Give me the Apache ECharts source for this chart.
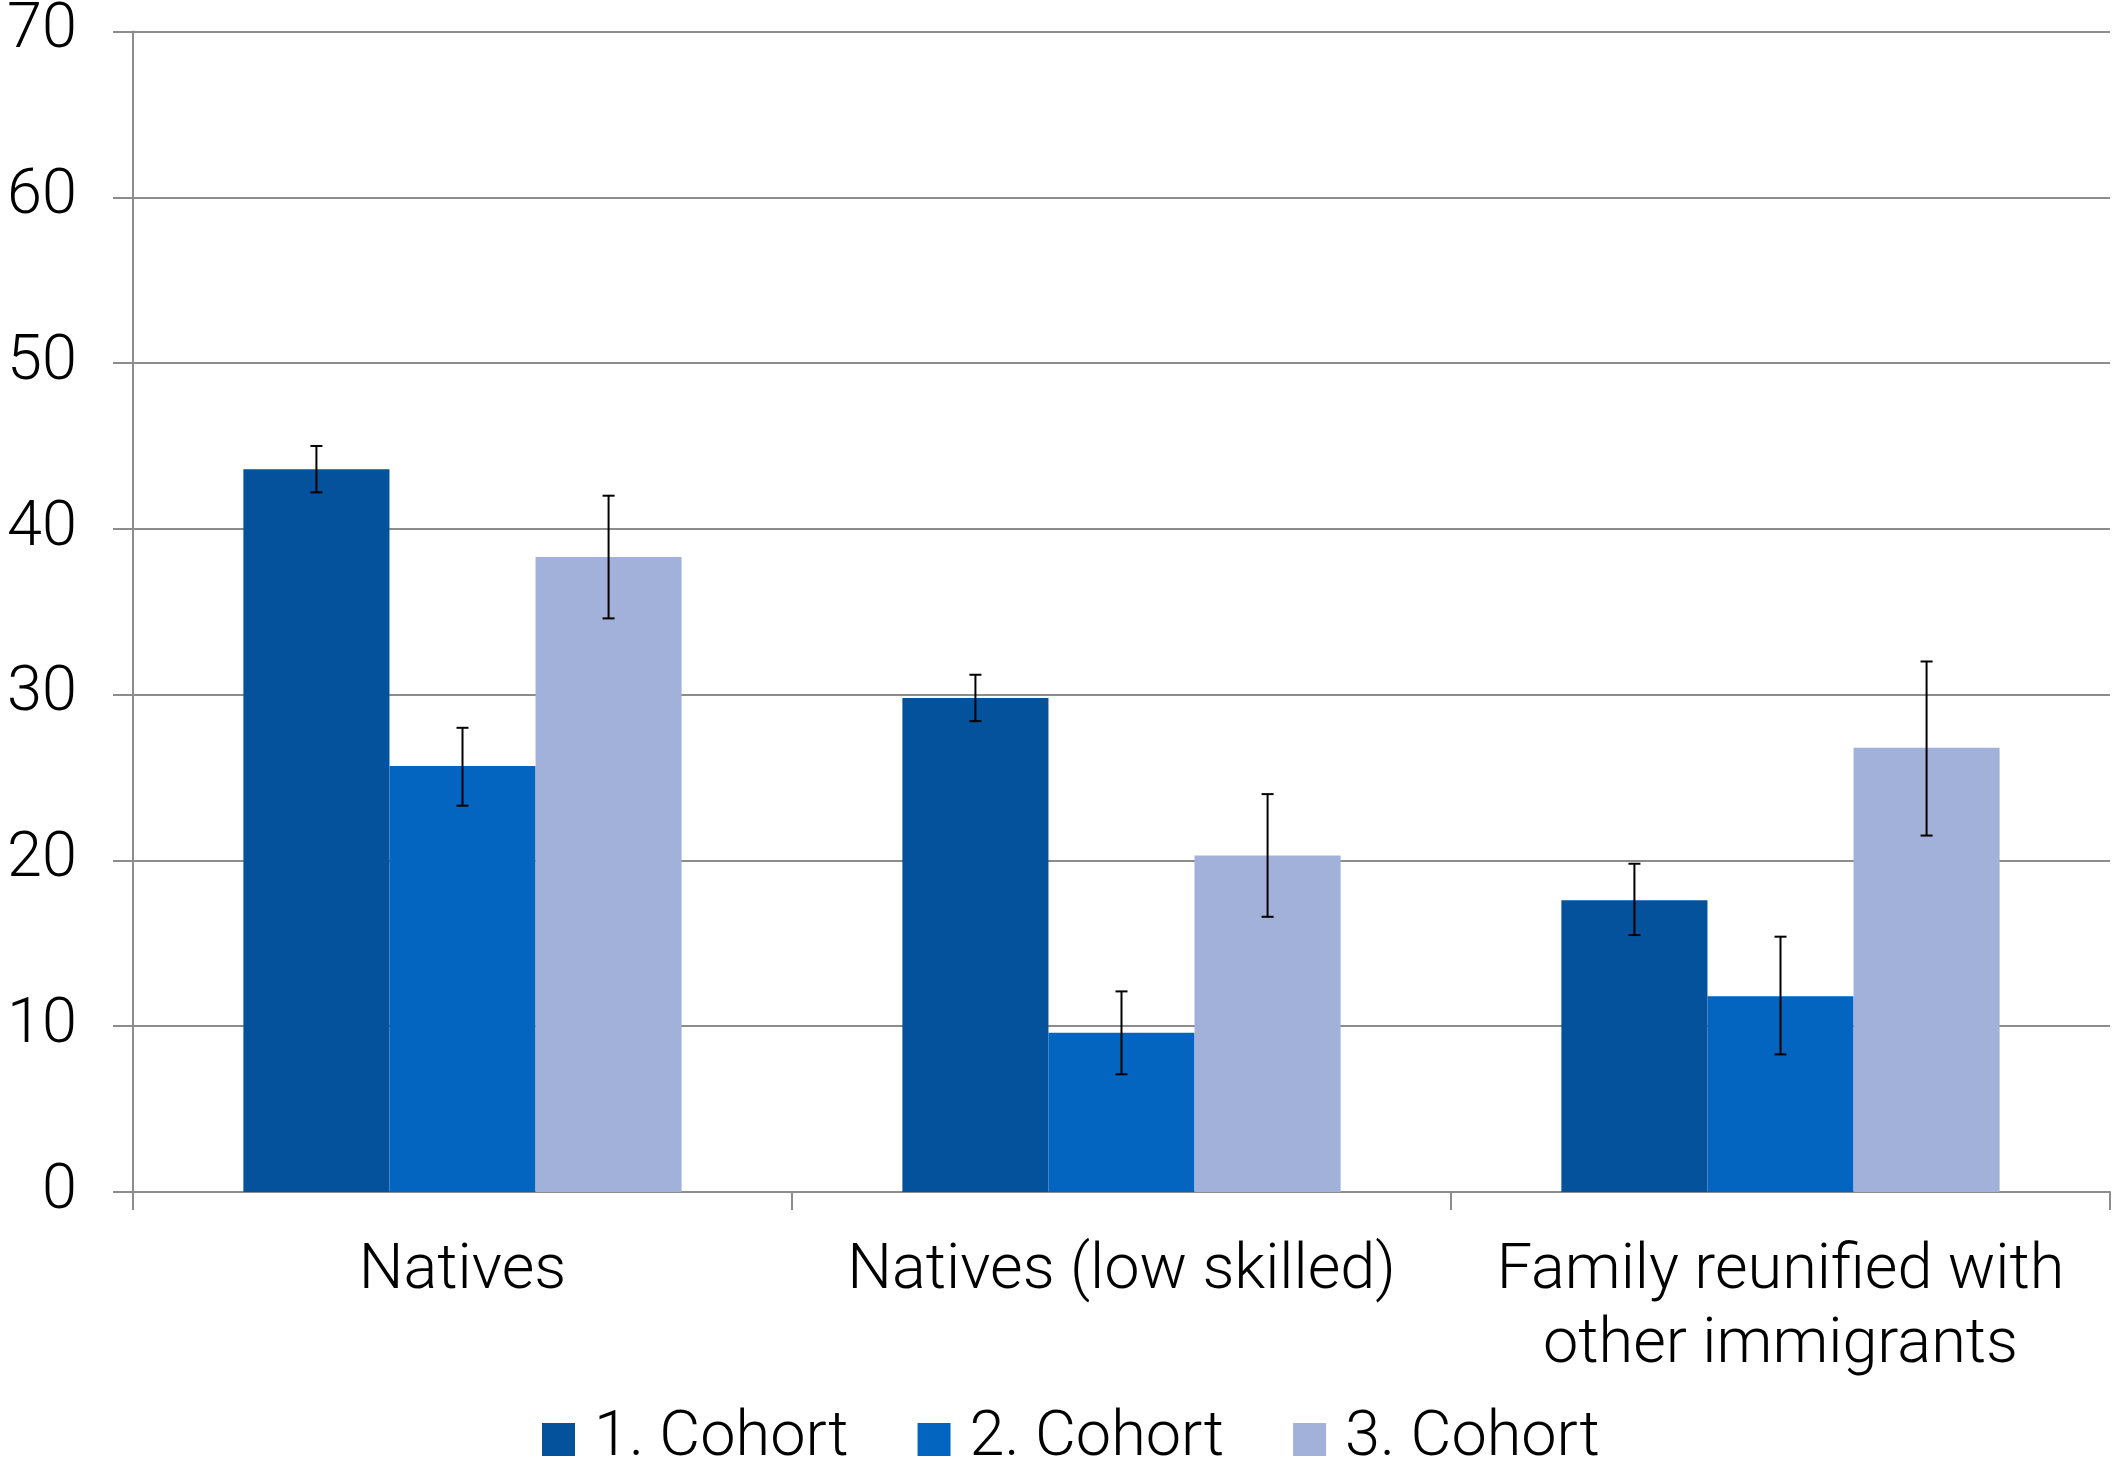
<!DOCTYPE html>
<html>
<head>
<meta charset="utf-8">
<script src="https://cdn.jsdelivr.net/npm/echarts@6/dist/echarts.min.js"></script>
<style>
  html, body { margin: 0; padding: 0; background: #fff; }
  #d_chart { width: 2115px; height: 1468px; }
</style>
</head>
<body>
<div id="d_chart"></div>
<script>
var categories = ['Natives', 'Natives (low skilled)', 'Family reunified with\nother immigrants']
var seriesNames = ['1. Cohort', '2. Cohort', '3. Cohort']
var cohort1 = [43.6, 29.8, 17.6]
var cohort1Low = [42.2, 28.4, 15.5]
var cohort1High = [45.0, 31.2, 19.8]
var cohort2 = [25.7, 9.6, 11.8]
var cohort2Low = [23.3, 7.1, 8.3]
var cohort2High = [28.0, 12.1, 15.4]
var cohort3 = [38.3, 20.3, 26.8]
var cohort3Low = [34.6, 16.6, 21.5]
var cohort3High = [42.0, 24.0, 32.0]
var colors = ['#04529c', '#0465c0', '#a2b1d9']

var FONT = 'Roboto'
var gapRatio = 0.335

function errData (low, high) {
  return low.map(function (l, i) { return [i, l, high[i]] })
}

// error bar drawn on top of bar number idx (0..2) of each group
function errorItem (idx) {
  return function (params, api) {
    var ci = api.value(0)
    var top = api.coord([ci, api.value(2)])
    var bot = api.coord([ci, api.value(1)])
    var band = api.size([1, 0])[0]
    var bw = band * (1 - gapRatio) / 3
    var x = top[0] + (idx - 1) * bw
    var cap = 6
    var st = { stroke: '#000', lineWidth: 2 }
    return {
      type: 'group',
      children: [
        { type: 'line', shape: { x1: x, y1: top[1], x2: x, y2: bot[1] }, style: st },
        { type: 'line', shape: { x1: x - cap, y1: top[1], x2: x + cap, y2: top[1] }, style: st },
        { type: 'line', shape: { x1: x - cap, y1: bot[1], x2: x + cap, y2: bot[1] }, style: st }
      ]
    }
  }
}

var chart = echarts.init(document.getElementById('d_chart'))
var axisGrey = '#8c8c8c'
var values = [cohort1, cohort2, cohort3]
var errs = [errData(cohort1Low, cohort1High), errData(cohort2Low, cohort2High), errData(cohort3Low, cohort3High)]

var series = []
values.forEach(function (v, i) {
  series.push({
    name: seriesNames[i],
    type: 'bar',
    data: v,
    barGap: '0%',
    barCategoryGap: (gapRatio * 100) + '%',
    itemStyle: { color: colors[i] },
    emphasis: { disabled: true }
  })
})
errs.forEach(function (d, i) {
  series.push({
    type: 'custom',
    renderItem: errorItem(i),
    data: d,
    encode: { x: 0, y: [1, 2] },
    z: 10,
    silent: true
  })
})

var option = {
  animation: false,
  backgroundColor: '#fff',
  textStyle: { fontFamily: FONT, fontWeight: 300 },
  grid: { left: 133, right: 5, top: 31, bottom: 276 },
  legend: {
    data: seriesNames,
    left: 537,
    top: 1403,
    itemWidth: 33,
    itemHeight: 33,
    itemGap: 69,
    icon: 'rect',
    textStyle: { fontFamily: FONT, fontWeight: 300, fontSize: 63, color: '#000', padding: [0, 0, 0, 14] }
  },
  xAxis: {
    type: 'category',
    data: categories,
    axisLine: { lineStyle: { color: axisGrey, width: 2 } },
    axisTick: { show: true, length: 18, lineStyle: { color: axisGrey, width: 2 } },
    axisLabel: {
      fontFamily: FONT,
      fontWeight: 300,
      fontSize: 63,
      lineHeight: 74,
      color: '#000',
      margin: 43,
      interval: 0
    }
  },
  yAxis: {
    type: 'value',
    min: 0,
    max: 70,
    interval: 10,
    axisLine: { show: true, lineStyle: { color: axisGrey, width: 2 } },
    axisTick: { show: true, length: 20, lineStyle: { color: axisGrey, width: 2 } },
    splitLine: { lineStyle: { color: axisGrey, width: 2 } },
    axisLabel: {
      fontFamily: FONT,
      fontWeight: 300,
      fontSize: 63,
      color: '#000',
      margin: 56
    }
  },
  series: series
}
chart.setOption(option, true)
window.addEventListener('resize', function () {
  chart.resize()
})
</script>
</body>
</html>
